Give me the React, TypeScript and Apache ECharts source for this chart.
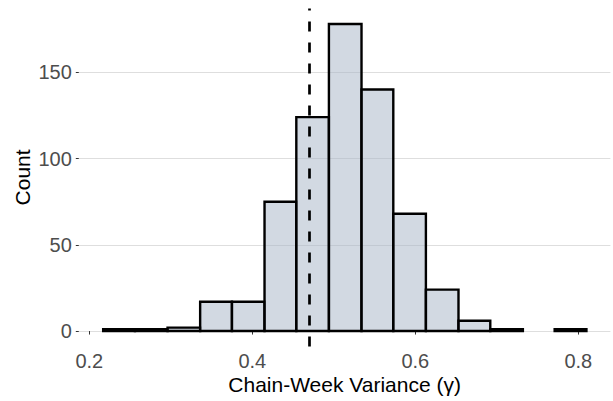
import React, { useEffect, useRef } from "react";
import * as echarts from "echarts";

// Histogram bin edges (lower/upper) and counts
const binStarts = [0.217, 0.256, 0.296, 0.336, 0.375, 0.415, 0.454, 0.494, 0.534, 0.573, 0.613, 0.653, 0.692, 0.732, 0.771];
const binEnds = [0.256, 0.296, 0.336, 0.375, 0.415, 0.454, 0.494, 0.534, 0.573, 0.613, 0.653, 0.692, 0.732, 0.771, 0.810];
const counts = [1, 1, 2, 17, 17, 75, 124, 178, 140, 68, 24, 6, 1, 0, 1];
const xTicks = [0.2, 0.4, 0.6, 0.8];
const yTicks = [0, 50, 100, 150];
const meanValue = 0.473;

export default function App() {
  const ref = useRef<HTMLDivElement>(null);
  useEffect(() => {
    if (!ref.current) return;
    const chart = echarts.init(ref.current, null, { renderer: "svg" });
    const data = binStarts.map((s, i) => [s, binEnds[i], counts[i]]);
    const font = "'Liberation Sans', Arial, sans-serif";
    chart.setOption({
      animation: false,
      grid: { left: 78.8, right: 2.6, top: 8.5, bottom: 54.6 },
      xAxis: {
        type: "value",
        min: 0.1871,
        max: 0.8394,
        name: "Chain-Week Variance (\u03b3)",
        nameLocation: "middle",
        nameGap: 28,
        nameMoveOverlap: false,
        nameTextStyle: { color: "#000", fontSize: 21, fontFamily: font },
        axisLine: { show: false },
        axisTick: { show: true, length: 3.5, customValues: xTicks, lineStyle: { color: "#333", width: 1 } },
        axisLabel: {
          customValues: xTicks,
          margin: 5,
          color: "#4d4d4d",
          fontSize: 20,
          fontFamily: font,
          formatter: (v: number) => v.toFixed(1),
        },
        splitLine: { show: false },
      },
      yAxis: {
        type: "value",
        min: -8.9,
        max: 187,
        name: "Count",
        nameLocation: "middle",
        nameGap: 46,
        nameMoveOverlap: false,
        nameTextStyle: { color: "#000", fontSize: 21, fontFamily: font },
        axisLine: { show: false },
        axisTick: { show: true, length: 3, customValues: yTicks, lineStyle: { color: "#333", width: 1 } },
        axisLabel: {
          customValues: yTicks,
          margin: 7,
          color: "#4d4d4d",
          fontSize: 20,
          fontFamily: font,
        },
        splitLine: { show: true, lineStyle: { color: "#dedede", width: 1.1 } },
      },
      series: [
        {
          type: "custom",
          data,
          encode: { x: [0, 1], y: 2 },
          renderItem: (params: any, api: any) => {
            const c = api.value(2);
            if (!c) return null;
            const p0 = api.coord([api.value(0), c]);
            const p1 = api.coord([api.value(1), 0]);
            return {
              type: "rect",
              shape: { x: p0[0], y: p0[1], width: p1[0] - p0[0], height: p1[1] - p0[1] },
              style: { fill: "rgba(165,180,198,0.5)", stroke: "#000", lineWidth: 2.4 },
            };
          },
          markLine: {
            silent: true,
            symbol: "none",
            label: { show: false },
            lineStyle: { color: "#000", width: 2.7, type: [10, 11] },
            data: [{ xAxis: meanValue }],
          },
        },
      ],
    });
    return () => chart.dispose();
  }, []);
  return <div ref={ref} style={{ width: 613, height: 401, position: "absolute", left: 0, top: 0 }} />;
}
